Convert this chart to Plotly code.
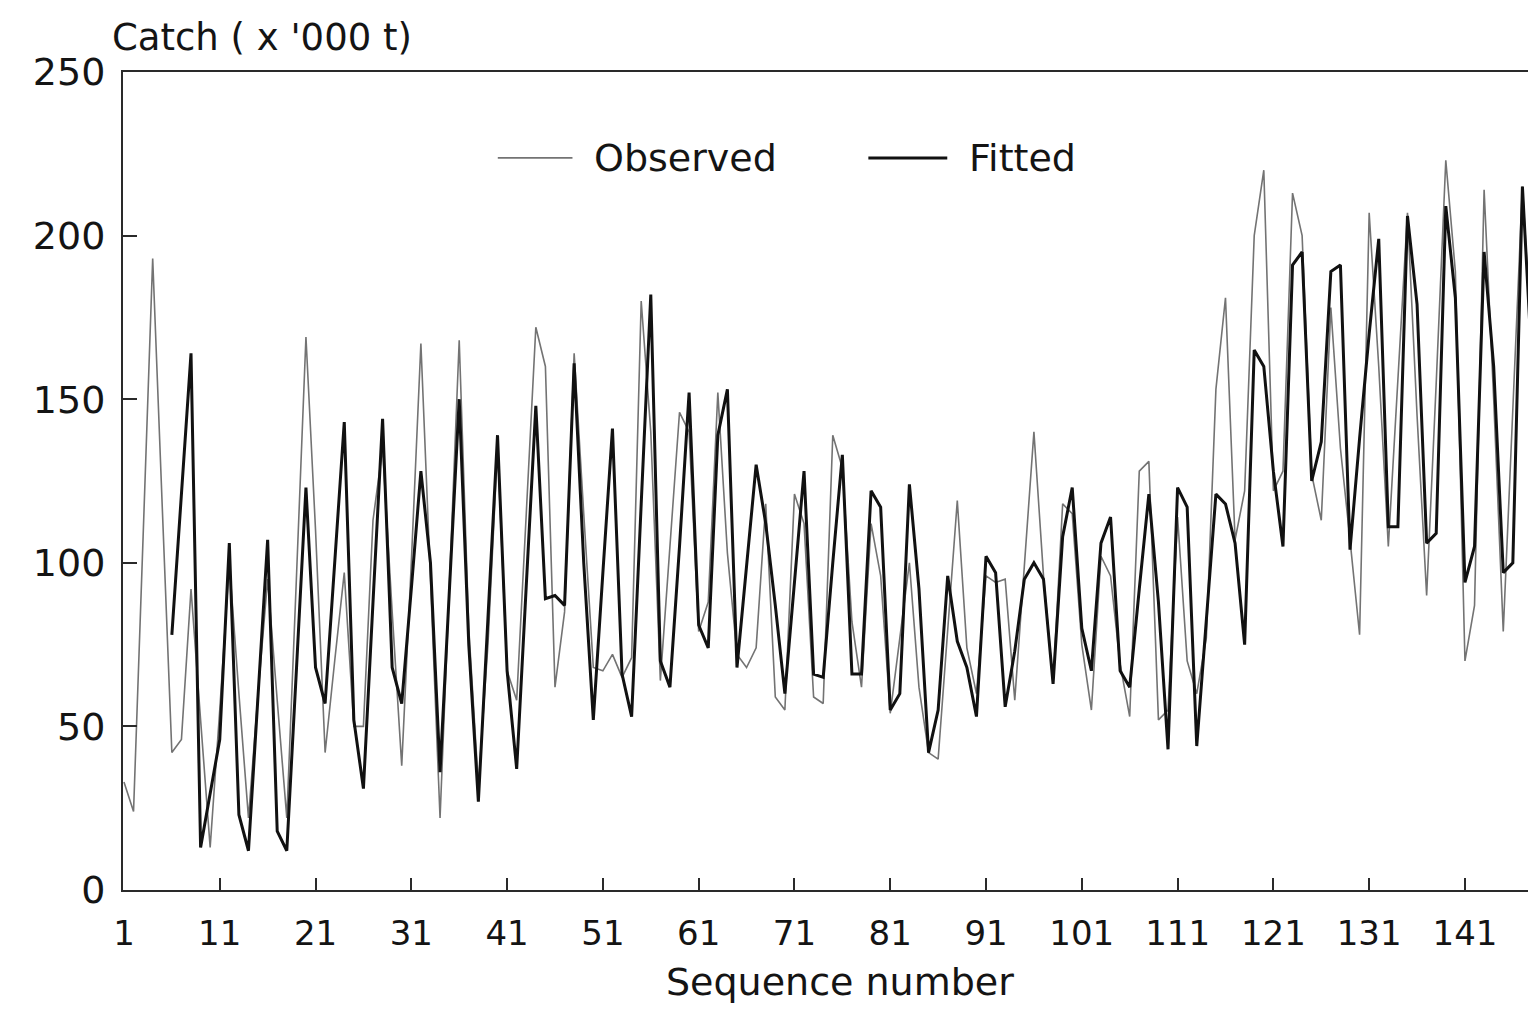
import plotly.graph_objects as go

# Sequence numbers and catch values ('000 t)
seq_observed = list(range(1, 149))
observed = [
    33, 24, 108, 193, 117, 42, 46, 92, 52, 13,
    55, 100, 60, 22, 60, 95, 58, 22, 95, 169,
    110, 42, 70, 97, 50, 50, 113, 135, 85, 38,
    100, 167, 95, 22, 95, 168, 80, 32, 75, 135,
    67, 58, 115, 172, 160, 62, 85, 164, 115, 68,
    67, 72, 65, 71, 180, 140, 64, 105, 146, 140,
    79, 88, 152, 103, 72, 68, 74, 118, 59, 55,
    121, 112, 59, 57, 139, 129, 82, 62, 112, 96,
    54, 77, 100, 62, 42, 40, 80, 119, 74, 60,
    96, 94, 95, 58, 99, 140, 96, 63, 118, 115,
    75, 55, 102, 96, 69, 53, 128, 131, 52, 55,
    114, 70, 60, 77, 153, 181, 107, 122, 200, 220,
    122, 128, 213, 200, 127, 113, 178, 135, 107, 78,
    207, 160, 105, 155, 207, 145, 90, 155, 223, 189,
    70, 87, 214, 150, 79, 147, 215, 165,
]

seq_fitted = list(range(6, 149))
fitted = [
    78, 121, 164, 13, 30,
    46, 106, 23, 12, 60, 107, 18, 12, 67, 123,
    68, 57, 100, 143, 52, 31, 88, 144, 68, 57,
    92, 128, 100, 36, 93, 150, 75, 27, 83, 139,
    67, 37, 93, 148, 89, 90, 87, 161, 100, 52,
    97, 141, 66, 53, 118, 182, 70, 62, 105, 152,
    81, 74, 139, 153, 68, 98, 130, 112, 87, 60,
    94, 128, 66, 65, 100, 133, 66, 66, 122, 117,
    55, 60, 124, 92, 42, 55, 96, 76, 68, 53,
    102, 97, 56, 73, 95, 100, 95, 63, 108, 123,
    80, 67, 106, 114, 67, 62, 92, 121, 88, 43,
    123, 117, 44, 82, 121, 118, 106, 75, 165, 160,
    128, 105, 191, 195, 125, 137, 189, 191, 104, 138,
    170, 199, 111, 111, 206, 179, 106, 109, 209, 181,
    94, 105, 195, 160, 97, 100, 215, 160,
]

x_ticks = [1, 11, 21, 31, 41, 51, 61, 71, 81, 91, 101, 111, 121, 131, 141]
y_ticks = [0, 50, 100, 150, 200, 250]

FONT = "DejaVu Sans"
INK = "#141414"
OBS_COLOR = "#737373"
FIT_COLOR = "#111111"

fig = go.Figure()
fig.add_trace(go.Scatter(
    x=seq_observed, y=observed, mode="lines", name="Observed",
    line=dict(color=OBS_COLOR, width=1.6), showlegend=False,
))
fig.add_trace(go.Scatter(
    x=seq_fitted, y=fitted, mode="lines", name="Fitted",
    line=dict(color=FIT_COLOR, width=3), showlegend=False,
))

axis_common = dict(
    showline=True, linewidth=2, linecolor="#2a2a2a", mirror=True,
    showgrid=False, zeroline=False, ticks="inside",
    tickcolor="#2a2a2a", tickwidth=1.5,
)

# in-plot legend (key lines + labels), placed in paper coordinates
legend_y = 0.895
legend_items = [
    ("Observed", OBS_COLOR, 1.6, 0.266, 0.319, 0.333),
    ("Fitted", FIT_COLOR, 3, 0.529, 0.585, 0.599),
]
shapes = []
annotations = []
for label, color, width, x0, x1, xt in legend_items:
    shapes.append(dict(type="line", xref="paper", yref="paper",
                       x0=x0, x1=x1, y0=legend_y, y1=legend_y,
                       line=dict(color=color, width=width)))
    annotations.append(dict(text=label, xref="paper", yref="paper",
                            x=xt, y=legend_y, xanchor="left", yanchor="middle",
                            showarrow=False,
                            font=dict(size=38, family=FONT, color=INK)))

annotations += [
    dict(text="Catch ( x '000 t)", xref="paper", yref="paper",
         x=-0.009, y=1.042, xanchor="left", yanchor="middle",
         showarrow=False, font=dict(size=37, family=FONT, color=INK)),
    dict(text="Sequence number", xref="paper", yref="paper",
         x=0.509, y=-0.113, xanchor="center", yanchor="middle",
         showarrow=False, font=dict(size=38, family=FONT, color=INK)),
]

fig.update_layout(
    width=1536, height=1012,
    margin=dict(l=115, r=10, t=64, b=130),
    paper_bgcolor="white", plot_bgcolor="white",
    font=dict(family=FONT, color=INK, size=36),
    xaxis=dict(
        range=[0.9, 148], tickvals=x_ticks, ticktext=[str(v) for v in x_ticks],
        ticklen=12, tickfont=dict(size=34, family=FONT, color=INK),
        ticklabelstandoff=12, **axis_common,
    ),
    yaxis=dict(
        range=[0, 250], tickvals=y_ticks, ticklen=14,
        tickfont=dict(size=38, family=FONT, color=INK),
        ticklabelstandoff=8, **axis_common,
    ),
    showlegend=False,
    shapes=shapes,
    annotations=annotations,
)

fig.write_html("out.html")
